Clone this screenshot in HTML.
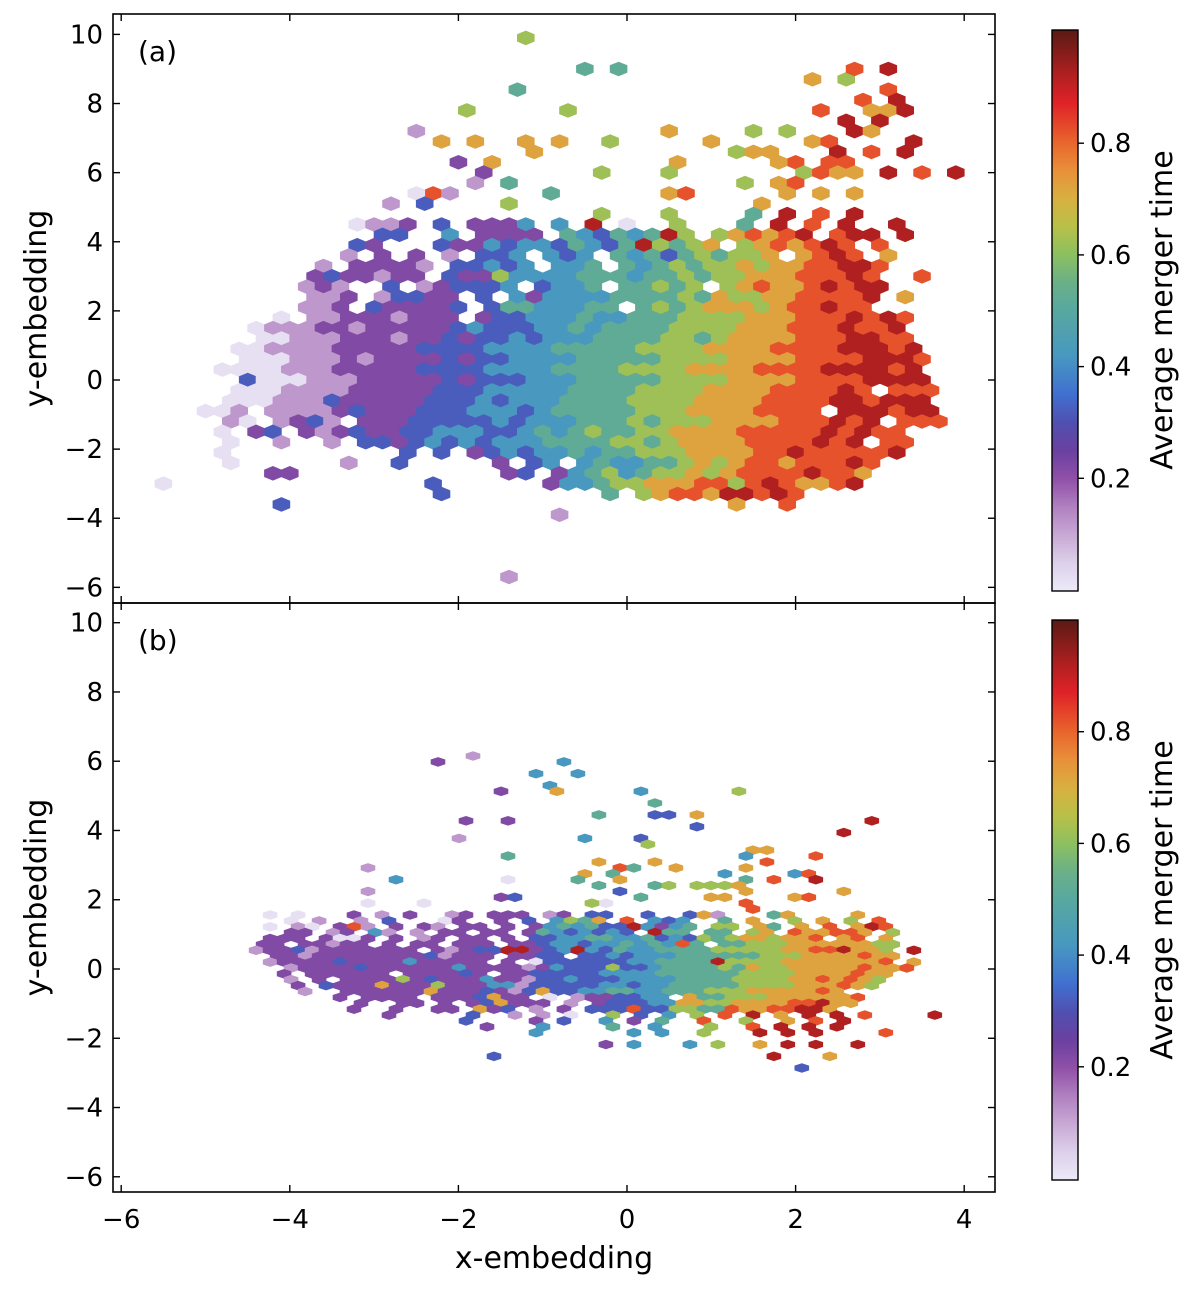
<!DOCTYPE html>
<html><head><meta charset="utf-8"><style>
body{margin:0;background:#fff}
svg{display:block}
text{font-family:"DejaVu Sans","Liberation Sans",sans-serif;fill:#000}
</style></head><body>
<svg id="fig" width="1200" height="1289" viewBox="0 0 1200 1289" xmlns="http://www.w3.org/2000/svg">
<defs>
<linearGradient id="cmap" x1="0" y1="1" x2="0" y2="0">
<stop offset="0" stop-color="#eceaf8"/><stop offset="0.05" stop-color="#dcd0ea"/><stop offset="0.1" stop-color="#c8a8d4"/><stop offset="0.15" stop-color="#b080c0"/><stop offset="0.2" stop-color="#9050a8"/><stop offset="0.25" stop-color="#6a40a0"/><stop offset="0.3" stop-color="#5050b0"/><stop offset="0.35" stop-color="#4070d0"/><stop offset="0.42" stop-color="#4898c0"/><stop offset="0.5" stop-color="#58a8a0"/><stop offset="0.55" stop-color="#6ab088"/><stop offset="0.6" stop-color="#8cc060"/><stop offset="0.65" stop-color="#b8c048"/><stop offset="0.7" stop-color="#d8b040"/><stop offset="0.75" stop-color="#e8903a"/><stop offset="0.8" stop-color="#e8652c"/><stop offset="0.87" stop-color="#e02228"/><stop offset="0.92" stop-color="#b02020"/><stop offset="1" stop-color="#5a1a14"/>
</linearGradient>
</defs>
<g id="hexA"></g>
<g id="hexB"></g>
<g id="axes"></g>
</svg>
<script>
// ---- data: panel (a) dense rows [row, startCol, codes] ; code d => value d/10+0.02
const A_rows = [
[34,12,"0112. 3.222 4.4.9 .0"],
[33,13,"33..4 .2222 .5435 4596. 67878 9.899 .9"],
[32,12,"32... 32243 44354 35965 67.67 87898 .8"],
[31,10,".1.2. 2.1.3 34.43 4.545 35656 67.78 98.8."],
[30,10,"1.222 21.33 434.4 45.54 56566 76778 8998"],
[29,9,"23221 22.32 26444 45554 55656 67778 8898"],
[28,9,"121.. 3.123 334.3 445.5 5656. 67877 89899"],
[27,9,"112.1 3322. 3.424 44455 55657 66778 8889."],
[26,9,"112.3 22223 .3554 4455. 56567 77678 8988."],
[25,7,"0.112 22122 2.233 44454 45556 66677 78889 898"],
[24,6,"01112 21222 22343 33445 45555 66667 77888 9889"],
[23,6,"00111 22212 23233 43444 55556 65677 77888 9988"],
[22,5,"00111 12222 23333 44445 55556 66677 77888 89998 9"],
[21,5,"00011 12122 22323 34444 55555 66667 77788 88999 8"],
[20,4,"00001 11222 22333 34444 55556 66677 77888 89999 89"],
[19,5,"30001 11222 22323 33444 55555 66667 77788 88999 9"],
[18,5,"00011 11222 22333 44444 55556 66677 77888 898.8 88"],
[17,4,"00011 13222 22333 43444 55556 66677 77888 89989 99"],
[16,3,"001.1 11123 22233 34443 45555 56667 77788 88.99 9899"],
[15,4,"10.12 31.22 23333 34344 45556 56667 77788 8989. 888"],
[14,4,"0.23. 21232 23344 43345 45655 66777 78888 89898 8."],
[13,4,"0..1. .1.33 23434 34445 55566 56777 78888 989.8 8"],
[12,4,"0.... ..... .3.3. 23434 45455 66677 77889 88888 9"],
[11,4,"0.... ..1.. 3.... .2.34 .4544 55676 78878 8898"],
[10,7,"2.... ..... ....2 3.245 64566 76788 88988 7"],
[9,16,"3.... ..244 56677 78868 98778 9"],
[8,27,"5.678 87998 .8."]
];
// panel (a) isolated hexes [row, col, code]
const A_pts = [
[52,22,6],[49,25,5],[49,27,5],[47,21,5],[45,18,6],[45,24,6],
[48,39,7],[48,41,6],[49,41,8],[49,43,9],[47,43,8],[46,42,8],[46,44,9],
[45,39,8],[45,42,7],[45,43,7],[45,44,9],[44,41,9],[44,43,9],
[43,15,1],[43,30,7],[43,35,6],[43,37,6],[43,41,9],[43,42,7],
[42,17,7],[42,19,7],[42,22,7],[42,24,7],[42,27,6],[42,33,7],[42,39,7],[42,40,8],[42,45,9],
[41,22,7],[41,34,6],[41,35,7],[41,36,7],[41,40,9],[41,42,8],[41,44,9],
[40,40,8],[40,41,8],[40,38,8],[40,37,7],[40,31,7],[40,18,2],[40,20,7],
[39,19,2],[39,26,6],[39,30,6],[39,38,6],[39,39,8],[39,40,7],[39,41,7],[39,43,9],[39,45,8],[39,47,9],
[38,19,1],[38,21,5],[38,35,6],[38,37,7],[38,38,8],
[37,23,5],[37,30,7],[37,31,8],[37,37,7],[37,39,7],[37,41,7],[37,16,8],[37,17,1],[37,15,0],
[36,14,1],[36,16,3],[36,21,6],[36,36,7],
[35,26,6],[35,30,6],[35,35,5],[35,37,9],[35,39,8],[35,41,9],
[34,31,6],[34,35,5],[34,37,9],[34,39,8],[34,41,9],[34,44,9],
[31,43,7],[29,45,8],[27,44,7],
[10,8,2],[9,0,0],[8,17,3],[8,37,9],[7,7,3],[7,34,7],[7,37,8],[6,24,1],[0,21,1]
];
// panel (b) dense rows
const B_rows = [
[28,1,"0.0.. .2.1. 2..12 .222. 12.33 ..3.. 371.. .57.. ..7"],
[27,0,"..0.1 ..1.3 ...02 ..2.3 .4657 .8.43 4..5. 7..6. 7.6.8"],
[26,0,".0.10 .281. 2.21. 22.2. 24545 33942 45.66 .75.7 .8.79 8"],
[25,0,"..22. 12.41 .1.22 .22.2 54343 43.95 5.55. 67.87 7887. 6"],
[24,0,".222. 2002. 2.12. 22.2. 33445 54453 43656 77677 8.78. 7"],
[23,0,"22.22 122.2 .22.2 22.22 34434 45454 85.55 66677 77776 6"],
[22,0,"12231 22222 22.21 23399 23494 35445 55566 66677 88977 6.9"],
[21,0,".2212 22222 22312 22.22 33.33 43444 55555 56667 77787 7"],
[20,0,".1222 23222 24222 22.2. 03333 33445 55596 66677 77777 8.7"],
[19,0,"..122 22322 22224 22221 24333 63345 55565 76677 77787 78"],
[18,0,"..2.2 22222 .2222 32.22 33333 44445 55555 66667 77787 7"],
[17,0,"..1.2 .2222 62322 24221 33433 34444 55556 66677 87876"],
[16,0,"...2. 32227 22262 22441 33333 44344 55555 66667 77876"],
[15,0,"...1. .2222 22722 23213 73344 55445 55666 77777 87"],
[14,0,"..... .2.22 22.22 23722 .0.12 23344 .7556 66777 7778"],
[13,0,"..... ..2.. 22.2. 23722 2.1.2 33344 77667 77788 977"],
[12,0,"..... ..2.. 2..22 .723. 1.2.3 33833 66558 77889 97"],
[11,0,"..... ....2 ..... 3..1. 1.0.. 6.3.4 .6.8. 9.7.9 .9.8. ...9"],
[10,0,"..... ..... ..... 3.... 2.3.. 4.2.5 ..8.. 6..7. 8.9.."],
[9,0,"..... ..... ..... .2... 4.... 5..4. ..6.. 8.9.9 .9"],
[8,0,"..... ..... ..... ..... 4.... ..4.4 ..6.. .9.9. 9....8"],
[6,0,"..... ..... ..... ..... ..... 2.4.. .4.6. .7.9. 9..9."],
[4,0,"..... ..... ..... ..3.. ..... ..... ..... ..9.. .7"]
];
const B_pts = [
[55,15,1],[54,13,2],[54,22,4],[52,20,4],[52,23,4],[50,21,4],[49,17,2],[49,21,7],[49,27,4],[49,34,6],
[47,28,5],[45,24,5],[45,28,3],[45,29,3],[45,31,7],[44,15,2],[44,18,2],[44,44,9],[43,31,3],[42,42,9],
[41,14,1],[41,23,4],[41,27,3],[40,28,6],[39,35,7],[39,36,7],[38,18,5],[38,35,4],[38,40,8],
[37,24,7],[37,28,7],[37,36,8],[36,8,1],[36,26,8],[36,27,5],[36,30,7],[36,35,7],
[35,23,7],[35,25,5],[35,33,4],[35,38,4],[35,39,8],[34,10,4],[34,23,5],[34,26,7],[34,35,5],[34,37,8],[34,40,9],[34,18,0],
[33,24,5],[33,28,5],[33,29,6],[33,31,6],[33,32,6],[33,33,6],[33,34,7],
[32,8,1],[32,26,3],[32,35,7],[32,42,7],[31,27,5],[31,32,7],[31,33,7],[31,38,7],[31,39,8],[31,17,2],[31,18,3],
[30,35,8],[30,8,0],[30,12,0],[30,25,0],[30,24,6],[29,35,8],[2,39,3]
];
const xTicks = [-6,-4,-2,0,2,4];
const yTicks = [-6,-4,-2,0,2,4,6,8,10];
const cbTicks = [0.2,0.4,0.6,0.8];

// ---- axes
const xS = x => 627 + 84.3*x;
const yA = y => 380 - 34.56*y;
const yB = y => 969 - 34.63*y;
const cbA = v => 590 - 558.5*v;
const cbB = v => 1178.5 - 558.5*v;

const stops=[[0,"#eceaf8"],[0.05,"#dcd0ea"],[0.1,"#c8a8d4"],[0.15,"#b080c0"],[0.2,"#9050a8"],[0.25,"#6a40a0"],[0.3,"#5050b0"],[0.35,"#4070d0"],[0.42,"#4898c0"],[0.5,"#58a8a0"],[0.55,"#6ab088"],[0.6,"#8cc060"],[0.65,"#b8c048"],[0.7,"#d8b040"],[0.75,"#e8903a"],[0.8,"#e8652c"],[0.87,"#e02228"],[0.92,"#b02020"],[1,"#5a1a14"]];
function hx(c){return [1,3,5].map(k=>parseInt(c.substr(k,2),16));}
function cmap(v){
  for(let k=1;k<stops.length;k++){
    if(v<=stops[k][0]){const a=stops[k-1],b=stops[k];const t=(v-a[0])/(b[0]-a[0]);
      const ca=hx(a[1]),cb=hx(b[1]);return "rgb("+ca.map((q,n)=>Math.round(q+(cb[n]-q)*t)).join(",")+")";}
  }
  return stops[stops.length-1][1];
}
const NS="http://www.w3.org/2000/svg";
function mk(tag,attrs,parent){const e=document.createElementNS(NS,tag);for(const k in attrs)e.setAttribute(k,attrs[k]);parent.appendChild(e);return e;}

function hexagon(parent,cx,cy,w,h,v){
  const p=[[0,-h/2],[w/2,-h/4],[w/2,h/4],[0,h/2],[-w/2,h/4],[-w/2,-h/4]].map(q=>(cx+q[0]).toFixed(1)+","+(cy+q[1]).toFixed(1)).join(" ");
  const e=mk("polygon",{points:p,fill:cmap(v)},parent);
  
  
}
function drawPanel(gid,rows,pts,lat,yF,w,h){
  const g=document.getElementById(gid);
  const cell=(j,i,d)=>{
    const x=lat.x0+lat.sx*i+(j%2?lat.sx/2:0), y=lat.y0+lat.sy*j;
    hexagon(g,xS(x),yF(y),w,h,d/10+0.02);
  };
  rows.forEach(r=>{const s=r[2].replace(/ /g,"");for(let k=0;k<s.length;k++){if(s[k]!=="."){cell(r[0],r[1]+k,+s[k]);}}});
  pts.forEach(p=>cell(p[0],p[1],p[2]));
}
drawPanel("hexA",A_rows,A_pts,{x0:-5.6,sx:0.2,y0:-5.7,sy:0.3},yA,17.6,14.6);
drawPanel("hexB",B_rows,B_pts,{x0:-4.4,sx:0.166,y0:-3.2,sy:0.17},yB,14.6,9.6);

const ax=document.getElementById("axes");
function txt(s,x,y,size,anchor,extra,name){
  const t=mk("text",Object.assign({x:x,y:y,"font-size":size,"text-anchor":anchor},extra||{}),ax);
  t.textContent=s;
  
  
  return t;
}
const L=113,R=995;
[[14,603,yA,"a"],[603,1192,yB,"b"]].forEach(P=>{
  const top=P[0],bot=P[1],yF=P[2],nm=P[3];
  const fr=mk("rect",{x:L,y:top,width:R-L,height:bot-top,fill:"none",stroke:"#000","stroke-width":1.6},ax);
  
  
  yTicks.forEach(v=>{
    const y=yF(v);
    mk("line",{x1:L,x2:L+7,y1:y,y2:y,stroke:"#000","stroke-width":1.4},ax);
    mk("line",{x1:R-7,x2:R,y1:y,y2:y,stroke:"#000","stroke-width":1.4},ax);
    txt((v<0?"\u2212":"")+Math.abs(v),103,y+9,26,"end",null,"y-tick-label");
  });
  xTicks.forEach(v=>{
    const x=xS(v);
    mk("line",{x1:x,x2:x,y1:bot-7,y2:bot,stroke:"#000","stroke-width":1.4},ax);
    mk("line",{x1:x,x2:x,y1:top,y2:top+7,stroke:"#000","stroke-width":1.4},ax);
  });
  const cy=(top+bot)/2;
  txt("y-embedding",46,cy,30,"middle",{transform:"rotate(-90 46 "+cy+")"},"y-axis-title");
  txt("("+nm+")",138,top+47,28,"start",null,"panel-label-"+nm);
});
xTicks.forEach(v=>txt((v<0?"\u2212":"")+Math.abs(v),xS(v),1228,26,"middle",null,"x-tick-label"));
txt("x-embedding",554,1268,30,"middle",null,"x-axis-title");

[[cbA,30,591,310,"a"],[cbB,620,1180,900,"b"]].forEach(C=>{
  const f=C[0],t=C[1],b=C[2],cy=C[3];
  const r=mk("rect",{x:1052,y:t,width:26,height:b-t,fill:"url(#cmap)",stroke:"#000","stroke-width":1.4},ax);
  
  
  cbTicks.forEach(v=>{
    const y=f(v);
    mk("line",{x1:1078,x2:1084,y1:y,y2:y,stroke:"#000","stroke-width":1.4},ax);
    txt(v.toFixed(1),1090,y+9,26,"start",null,"colorbar-tick-label");
  });
  txt("Average merger time",1172,cy,30,"middle",{transform:"rotate(-90 1172 "+cy+")"},"colorbar-title");
});
</script>
</body></html>
